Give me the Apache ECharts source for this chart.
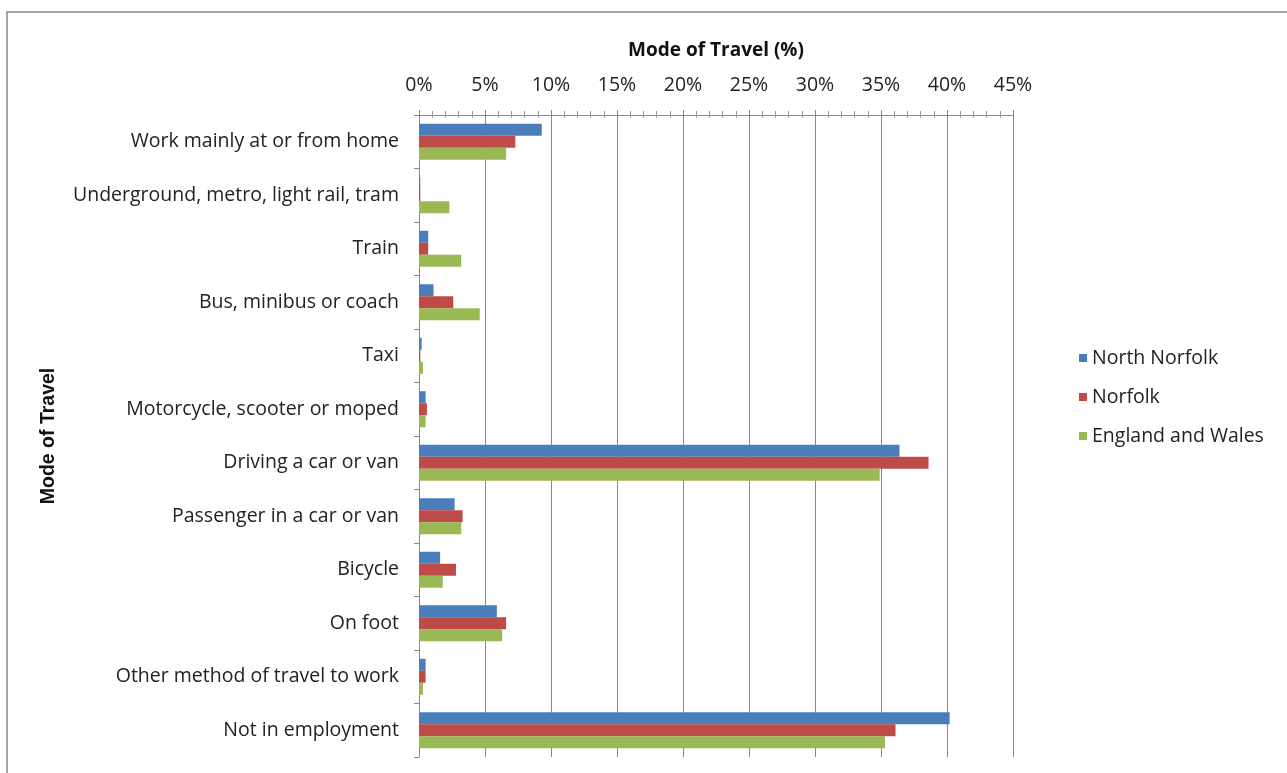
<!DOCTYPE html>
<html><head><meta charset="utf-8">
<script src="https://cdn.jsdelivr.net/npm/echarts@6/dist/echarts.min.js"></script>
<style>html,body{margin:0;padding:0;background:#fff}#c{width:1287px;height:773px}</style>
</head><body><div id="c"></div>
<script>
const categories = ["Work mainly at or from home","Underground, metro, light rail, tram","Train","Bus, minibus or coach","Taxi","Motorcycle, scooter or moped","Driving a car or van","Passenger in a car or van","Bicycle","On foot","Other method of travel to work","Not in employment"];
const northNorfolk = [9.3,0.1,0.7,1.1,0.2,0.5,36.4,2.7,1.6,5.9,0.5,40.2];
const norfolk = [7.3,0.1,0.7,2.6,0.1,0.6,38.6,3.3,2.8,6.6,0.5,36.1];
const englandWales = [6.6,2.3,3.2,4.6,0.3,0.5,34.9,3.2,1.8,6.3,0.3,35.3];
const seriesNames = ["North Norfolk","Norfolk","England and Wales"];
const colors = ["#4a7ebb","#be4b48","#98b954"];
const font = "'Open Sans', sans-serif";
const chart = echarts.init(document.getElementById('c'));
const mk = (name, data, i) => ({
  name, type:'bar', data, barWidth:12, barGap:'0%',
  itemStyle:{color:colors[i]}
});
chart.setOption({
  animation:false,
  graphic:[{type:'polyline',shape:{points:[[7,773],[7,12],[1287,12]]},style:{stroke:'#888',lineWidth:1.5,fill:null}}],
  grid:{left:419,right:274,top:115,bottom:16,containLabel:false},
  legend:{orient:'vertical',left:1074,top:343,itemGap:19,itemWidth:8,itemHeight:8,icon:'rect',
    textStyle:{fontFamily:font,fontSize:19.5,color:'#222'},data:seriesNames},
  xAxis:[{type:'value',position:'top',min:0,max:45,interval:5,
    name:'Mode of Travel (%)',nameLocation:'middle',nameGap:55,
    nameTextStyle:{fontFamily:font,fontSize:19,fontWeight:'bold',color:'#111'},
    axisLine:{show:true,lineStyle:{color:'#888'}},
    axisTick:{show:true,inside:false,length:5,lineStyle:{color:'#888'}},
    minorTick:{show:true,splitNumber:5,length:4,lineStyle:{color:'#999'}},
    axisLabel:{formatter:'{value}%',fontFamily:font,fontSize:19.5,color:'#222',margin:20},
    splitLine:{show:true,lineStyle:{color:'#888',width:1}}},
   {type:'value',position:'top',min:0,max:45,interval:5,
    axisLine:{show:false},axisLabel:{show:false},splitLine:{show:false},
    axisTick:{show:true,inside:true,length:4,lineStyle:{color:'#888'}},
    minorTick:{show:true,splitNumber:5,length:3,lineStyle:{color:'#999'}}}],
  yAxis:{type:'category',data:categories,inverse:true,
    name:'Mode of Travel',nameLocation:'middle',nameGap:360,nameRotate:90,
    nameTextStyle:{fontFamily:"'Liberation Sans', Arial, sans-serif",fontSize:19.5,fontWeight:'bold',color:'#111'},
    axisLine:{show:true,lineStyle:{color:'#888'}},
    axisTick:{show:true,length:5,lineStyle:{color:'#888'}},
    axisLabel:{fontFamily:font,fontSize:19.5,color:'#222',margin:20}},
  series:[mk(seriesNames[0],northNorfolk,0),mk(seriesNames[1],norfolk,1),mk(seriesNames[2],englandWales,2)]
});
</script></body></html>
